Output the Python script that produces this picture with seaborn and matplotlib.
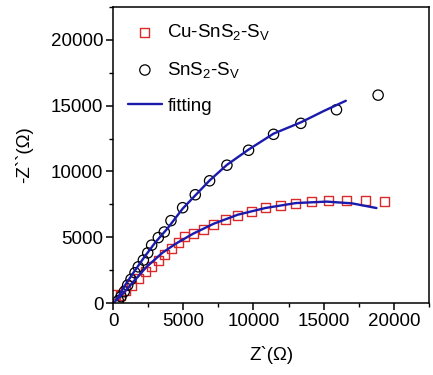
import matplotlib
matplotlib.use("Agg")
import matplotlib.pyplot as plt
from matplotlib.ticker import AutoMinorLocator, MultipleLocator
import seaborn as sns
import pandas as pd

# measured data, Cu-SnS2-Sv (red squares)
cu_x = [200, 500, 855, 1330, 1800, 2280, 2750, 3225, 3700, 4170, 4650, 5120,
        5714, 6425, 7183, 7990, 8890, 9862, 10834, 11902, 13016, 14154,
        15363, 16619, 17971, 19346]
cu_y = [650, 600, 985, 1360, 1870, 2370, 2800, 3260, 3710, 4140, 4570, 5020,
        5253, 5606, 5985, 6313, 6667, 6995, 7247, 7449, 7601, 7727,
        7778, 7828, 7803, 7753]

# measured data, SnS2-Sv (black circles)
sn_x = [380, 570, 800, 1045, 1280, 1565, 1800, 2160, 2470, 2750, 3225, 3650,
        4125, 4955, 5856, 6875, 8108, 9649, 11427, 13371, 15908, 18871]
sn_y = [175, 480, 860, 1360, 1800, 2300, 2750, 3260, 3810, 4400, 4975, 5400,
        6263, 7247, 8232, 9293, 10480, 11616, 12828, 13662, 14697, 15808]

# fitted curves (blue lines)
fit_cu_x = [260, 735, 1446, 2395, 3509, 4481, 5714, 7183, 8890, 10834,
            13016, 15200, 17000, 18753]
fit_cu_y = [227, 732, 1616, 2753, 3813, 4520, 5278, 6035, 6717, 7222,
            7600, 7710, 7580, 7222]
fit_sn_x = [140, 380, 830, 1450, 2200, 3005, 3900, 4955, 5856, 6875, 8108,
            9649, 11427, 13371, 15000, 16572]
fit_sn_y = [100, 480, 1300, 2300, 3450, 4600, 5700, 7172, 8182, 9318, 10505,
            11667, 12878, 13737, 14600, 15379]

cu = pd.DataFrame({"x": cu_x, "y": cu_y})
sn = pd.DataFrame({"x": sn_x, "y": sn_y})
fit_cu = pd.DataFrame({"x": fit_cu_x, "y": fit_cu_y})
fit_sn = pd.DataFrame({"x": fit_sn_x, "y": fit_sn_y})

sns.set_style("ticks")
plt.rcParams["font.family"] = ["Liberation Sans", "DejaVu Sans"]
plt.rcParams["mathtext.fontset"] = "custom"
plt.rcParams["mathtext.rm"] = "Liberation Sans"
plt.rcParams["mathtext.it"] = "Liberation Sans"
plt.rcParams["text.color"] = "black"
plt.rcParams["axes.labelcolor"] = "black"
plt.rcParams["xtick.color"] = "black"
plt.rcParams["ytick.color"] = "black"

fig = plt.figure(figsize=(4.33, 3.75), dpi=100)
ax = fig.add_axes([0.261, 0.192, 0.730, 0.789])

red = "#d92a2a"
blue = "#1a1aad"

sns.lineplot(data=fit_sn, x="x", y="y", ax=ax, color=blue, lw=1.7, sort=False)
sns.lineplot(data=fit_cu, x="x", y="y", ax=ax, color=blue, lw=1.7, sort=False,
             label="fitting")
sns.scatterplot(data=cu, x="x", y="y", ax=ax, marker="s", s=42,
                facecolor="none", edgecolor=red, linewidth=1.0,
                label=r"Cu-SnS$_2$-S$_V$")
sns.scatterplot(data=sn, x="x", y="y", ax=ax, marker="o", s=55,
                facecolor="none", edgecolor="black", linewidth=0.9,
                label=r"SnS$_2$-S$_V$")

ax.set_xlim(0, 22500)
ax.set_ylim(0, 22500)
ax.xaxis.set_major_locator(MultipleLocator(5000))
ax.yaxis.set_major_locator(MultipleLocator(5000))
ax.xaxis.set_minor_locator(AutoMinorLocator(2))
ax.yaxis.set_minor_locator(AutoMinorLocator(2))
ax.tick_params(which="major", direction="out", length=5, width=1.1,
               labelsize=13.5, pad=2, colors="black")
ax.tick_params(which="minor", direction="out", length=3, width=1.0,
               colors="black")
for sp in ax.spines.values():
    sp.set_linewidth(1.1)
    sp.set_color("black")

ax.set_xlabel("Z`(Ω)", fontsize=13.5, labelpad=12)
ax.set_ylabel("-Z``(Ω)", fontsize=13.5, labelpad=13)

h, l = ax.get_legend_handles_labels()
order = [l.index(r"Cu-SnS$_2$-S$_V$"), l.index(r"SnS$_2$-S$_V$"), l.index("fitting")]
ax.legend([h[i] for i in order], [l[i] for i in order], loc="upper left",
          frameon=False, fontsize=13.5, handlelength=1.8, handletextpad=0.3,
          labelspacing=0.95, borderaxespad=0.4, labelcolor="black")

fig.savefig("out.png", dpi=100)
